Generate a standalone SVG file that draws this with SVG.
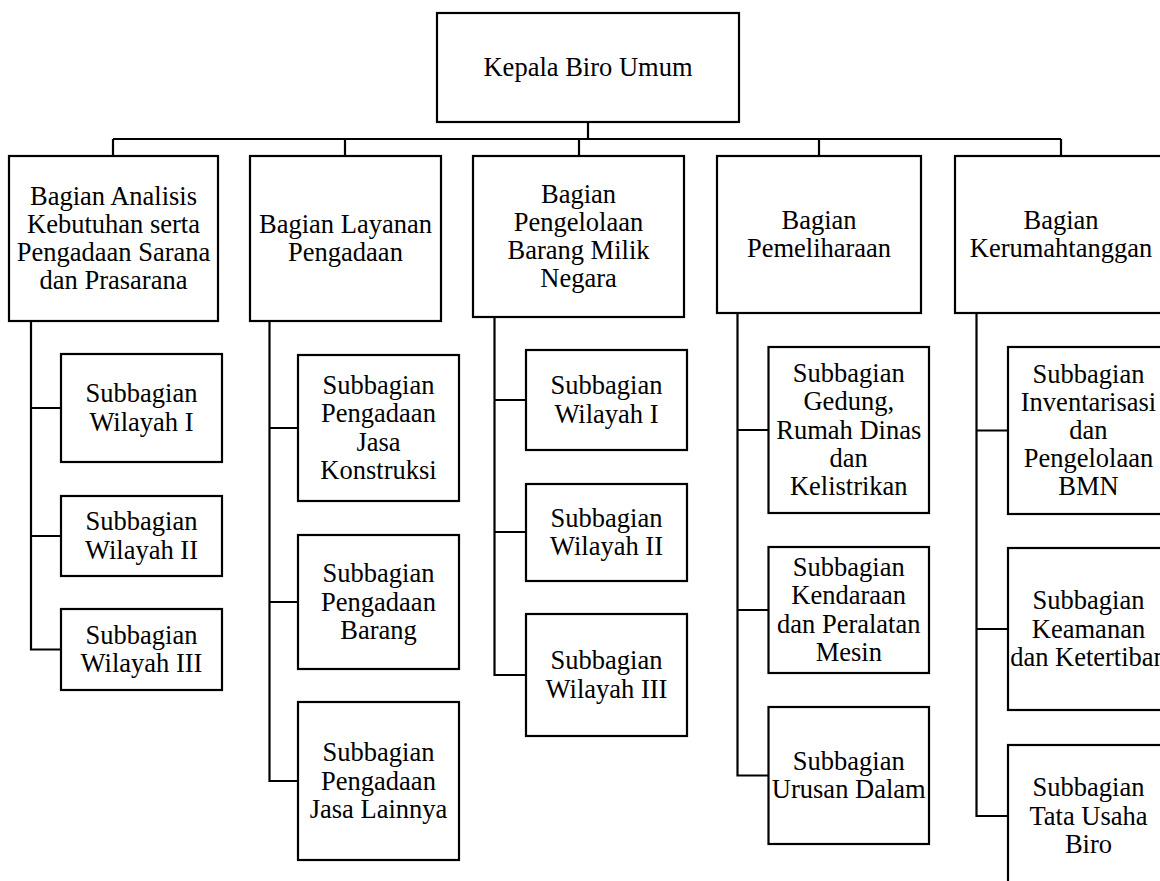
<svg xmlns="http://www.w3.org/2000/svg" width="1160" height="881" viewBox="0 0 1160 881">
<style>
.b{fill:#fff;stroke:#000;stroke-width:2.2}
.c{fill:none;stroke:#000;stroke-width:2.2}
.t text{font-size:26.5px;fill:#000;text-anchor:middle}
</style>
<rect width="1160" height="881" fill="#fff"/>
<g id="connectors" class="c">
<path d="M588 122V139M113 139H1061M113 139V156M345 139V156M579 139V156M819 139V156M1061 139V156"/>
<path d="M31 321V649.5H61M31 408H61M31 536H61"/>
<path d="M269.5 321V781H298M269.5 428H298M269.5 602H298"/>
<path d="M494.5 317V675H526M494.5 400H526M494.5 532H526"/>
<path d="M737.5 313V775.5H768.5M737.5 430H768.5M737.5 610H768.5"/>
<path d="M976.5 313V816H1008M976.5 430.5H1008M976.5 629H1008"/>
</g>
<g class="t" font-family="'Liberation Serif', 'Times New Roman', Tinos, 'DejaVu Serif', serif">
<g id="kepala"><rect class="b" x="437" y="13" width="302" height="109"/><text x="588" y="76">Kepala Biro Umum</text></g>
<g id="bagian1"><rect class="b" x="9" y="156" width="209" height="165"/><text><tspan x="113.5" y="204.7">Bagian Analisis</tspan><tspan x="113.5" y="232.9">Kebutuhan serta</tspan><tspan x="113.5" y="261.1">Pengadaan Sarana</tspan><tspan x="113.5" y="289.3">dan Prasarana</tspan></text></g>
<g id="bagian2"><rect class="b" x="250" y="156" width="191" height="165"/><text><tspan x="345.5" y="232.9">Bagian Layanan</tspan><tspan x="345.5" y="261.1">Pengadaan</tspan></text></g>
<g id="bagian3"><rect class="b" x="473" y="156" width="211" height="161"/><text><tspan x="578.5" y="202.7">Bagian</tspan><tspan x="578.5" y="230.9">Pengelolaan</tspan><tspan x="578.5" y="259.1">Barang Milik</tspan><tspan x="578.5" y="287.3">Negara</tspan></text></g>
<g id="bagian4"><rect class="b" x="717" y="156" width="204" height="157"/><text><tspan x="819" y="228.9">Bagian</tspan><tspan x="819" y="257.1">Pemeliharaan</tspan></text></g>
<g id="bagian5"><rect class="b" x="955" y="156" width="211" height="157"/><text><tspan x="1061" y="228.9">Bagian</tspan><tspan x="1061" y="257.1">Kerumahtanggan</tspan></text></g>
<g id="sub1-1"><rect class="b" x="61" y="354" width="161" height="108"/><text><tspan x="141.5" y="402.4">Subbagian</tspan><tspan x="141.5" y="430.6">Wilayah I</tspan></text></g>
<g id="sub1-2"><rect class="b" x="61" y="496" width="161" height="80"/><text><tspan x="141.5" y="530.4">Subbagian</tspan><tspan x="141.5" y="558.6">Wilayah II</tspan></text></g>
<g id="sub1-3"><rect class="b" x="61" y="609" width="161" height="81"/><text><tspan x="141.5" y="643.9">Subbagian</tspan><tspan x="141.5" y="672.1">Wilayah III</tspan></text></g>
<g id="sub2-1"><rect class="b" x="298" y="355" width="161" height="146"/><text><tspan x="378.5" y="394.2">Subbagian</tspan><tspan x="378.5" y="422.4">Pengadaan</tspan><tspan x="378.5" y="450.6">Jasa</tspan><tspan x="378.5" y="478.8">Konstruksi</tspan></text></g>
<g id="sub2-2"><rect class="b" x="298" y="535" width="161" height="134"/><text><tspan x="378.5" y="582.3">Subbagian</tspan><tspan x="378.5" y="610.5">Pengadaan</tspan><tspan x="378.5" y="638.7">Barang</tspan></text></g>
<g id="sub2-3"><rect class="b" x="298" y="702" width="161" height="158"/><text><tspan x="378.5" y="761.3">Subbagian</tspan><tspan x="378.5" y="789.5">Pengadaan</tspan><tspan x="378.5" y="817.7">Jasa Lainnya</tspan></text></g>
<g id="sub3-1"><rect class="b" x="526" y="350" width="161" height="100"/><text><tspan x="606.5" y="394.4">Subbagian</tspan><tspan x="606.5" y="422.6">Wilayah I</tspan></text></g>
<g id="sub3-2"><rect class="b" x="526" y="484" width="161" height="97"/><text><tspan x="606.5" y="526.9">Subbagian</tspan><tspan x="606.5" y="555.1">Wilayah II</tspan></text></g>
<g id="sub3-3"><rect class="b" x="526" y="614" width="161" height="122"/><text><tspan x="606.5" y="669.4">Subbagian</tspan><tspan x="606.5" y="697.6">Wilayah III</tspan></text></g>
<g id="sub4-1"><rect class="b" x="768.5" y="347" width="160.5" height="166"/><text><tspan x="848.75" y="382.1">Subbagian</tspan><tspan x="848.75" y="410.3">Gedung,</tspan><tspan x="848.75" y="438.5">Rumah Dinas</tspan><tspan x="848.75" y="466.7">dan</tspan><tspan x="848.75" y="494.9">Kelistrikan</tspan></text></g>
<g id="sub4-2"><rect class="b" x="768.5" y="547" width="160.5" height="126"/><text><tspan x="848.75" y="576.2">Subbagian</tspan><tspan x="848.75" y="604.4">Kendaraan</tspan><tspan x="848.75" y="632.6">dan Peralatan</tspan><tspan x="848.75" y="660.8">Mesin</tspan></text></g>
<g id="sub4-3"><rect class="b" x="768.5" y="707" width="160.5" height="137"/><text><tspan x="848.75" y="769.9">Subbagian</tspan><tspan x="848.75" y="798.1">Urusan Dalam</tspan></text></g>
<g id="sub5-1"><rect class="b" x="1008" y="347" width="161" height="167"/><text><tspan x="1088.5" y="382.6">Subbagian</tspan><tspan x="1088.5" y="410.8">Inventarisasi</tspan><tspan x="1088.5" y="439">dan</tspan><tspan x="1088.5" y="467.2">Pengelolaan</tspan><tspan x="1088.5" y="495.4">BMN</tspan></text></g>
<g id="sub5-2"><rect class="b" x="1008" y="548" width="161" height="162"/><text><tspan x="1088.5" y="609.3">Subbagian</tspan><tspan x="1088.5" y="637.5">Keamanan</tspan><tspan x="1088.5" y="665.7">dan Ketertiban</tspan></text></g>
<g id="sub5-3"><rect class="b" x="1008" y="745" width="161" height="142"/><text><tspan x="1088.5" y="796.3">Subbagian</tspan><tspan x="1088.5" y="824.5">Tata Usaha</tspan><tspan x="1088.5" y="852.7">Biro</tspan></text></g>
</g>
</svg>
